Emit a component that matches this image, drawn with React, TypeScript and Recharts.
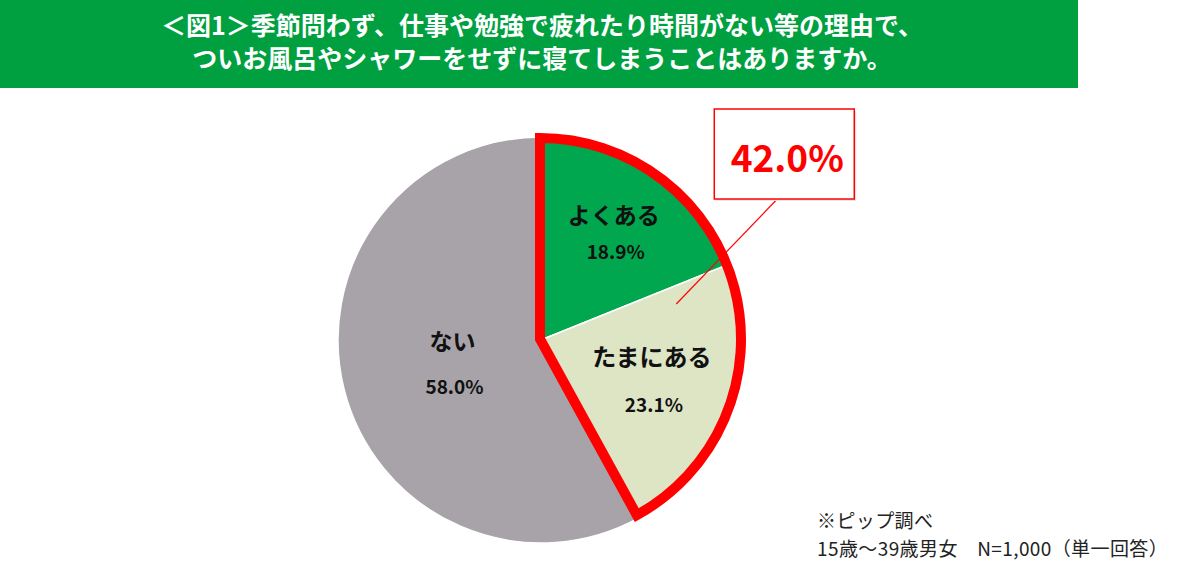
import React from 'react';
import { PieChart, Pie, Cell } from 'recharts';

const categories = ['よくある', 'たまにある', 'ない'];
const values = [18.9, 23.1, 58.0];
const sliceColors = ['#00A74E', '#DDE5C5', '#A7A3A8'];
const titleLines = [
  '＜図1＞季節問わず、仕事や勉強で疲れたり時間がない等の理由で、',
  'ついお風呂やシャワーをせずに寝てしまうことはありますか。',
];
const noteLines = ['※ピップ調べ', '15歳〜39歳男女　N=1,000（単一回答）'];
const highlightNames = ['ある（計）', 'ない'];

const data = categories.map((name, i) => ({ name, value: values[i] }));
const highlightValues = [values[0] + values[1], values[2]];
const highlightData = highlightNames.map((name, i) => ({ name, value: highlightValues[i] }));

const FONT = '"Noto Sans CJK JP", "Noto Sans", sans-serif';
const RADIAN = Math.PI / 180;
const labelRadiusRatio = [0.64, 0.58, 0.45];
const labelGap = [18, 24, 23];
const nameSize = [23, 24, 23];

const renderSliceLabel = (props: any) => {
  const { cx, cy, midAngle, outerRadius, index, name, value } = props;
  const r = outerRadius * labelRadiusRatio[index];
  const x = cx + r * Math.cos(-midAngle * RADIAN);
  const y = cy + r * Math.sin(-midAngle * RADIAN);
  const g = labelGap[index];
  return (
    <g>
      <text x={x} y={y - g} textAnchor="middle" dominantBaseline="central"
        fontFamily={FONT} fontWeight={700} fontSize={nameSize[index]} fill="#111">
        {name}
      </text>
      <text x={x + 2} y={y + g} textAnchor="middle" dominantBaseline="central"
        fontFamily={FONT} fontWeight={700} fontSize={19} fill="#111">
        {`${Number(value).toFixed(1)}%`}
      </text>
    </g>
  );
};

const renderCallout = (props: any) => {
  const { cx, cy, midAngle, outerRadius, index, value } = props;
  if (index !== 0) return null;
  const r = outerRadius * 0.7;
  const ax = cx + r * Math.cos(-midAngle * RADIAN);
  const ay = cy + r * Math.sin(-midAngle * RADIAN);
  const bx = ax + 101;
  const by = ay - 105;
  const w = 140;
  const h = 90;
  return (
    <g>
      <line x1={ax} y1={ay} x2={bx} y2={by} stroke="#FF0000" strokeWidth={1.2} />
      <rect x={bx - 63 + 2} y={by - h + 2} width={w} height={h} fill="#E6E6E6" />
      <rect x={bx - 63} y={by - h} width={w} height={h} fill="#FFFFFF" stroke="#FF0000" strokeWidth={1.5} />
      <text x={bx - 63 + w / 2 + 3} y={by - h / 2 + 2} textAnchor="middle" dominantBaseline="central"
        fontFamily={FONT} fontWeight={700} fontSize={37} fill="#FF0000">
        {`${Number(value).toFixed(1)}%`}
      </text>
    </g>
  );
};

export default function App() {
  return (
    <div style={{ position: 'absolute', left: 0, top: 0, width: 1200, height: 574, background: '#FFFFFF', overflow: 'hidden' }}>
      <div style={{
        position: 'absolute', left: 0, top: 0, width: 1078, height: 88, background: '#00A040',
        color: '#FFFFFF', fontFamily: FONT, fontWeight: 700, fontSize: 25, lineHeight: '33px',
        textAlign: 'center', paddingTop: 8, boxSizing: 'border-box',
      }}>
        {titleLines.map((t, i) => (
          <div key={i} style={{ paddingLeft: 6 }}>{t}</div>
        ))}
      </div>
      <div style={{ position: 'absolute', left: 0, top: 0 }}>
        <PieChart width={1200} height={574} margin={{ top: 0, right: 0, bottom: 0, left: 0 }}>
          <Pie
            data={data}
            dataKey="value"
            nameKey="name"
            cx={541}
            cy={340}
            outerRadius={203}
            startAngle={90}
            endAngle={-270}
            stroke="#FFFFFF"
            strokeWidth={1.5}
            isAnimationActive={false}
            label={renderSliceLabel}
            labelLine={false}
          >
            {data.map((d, i) => (
              <Cell key={d.name} fill={sliceColors[i]} />
            ))}
          </Pie>
          <Pie
            data={highlightData}
            dataKey="value"
            nameKey="name"
            cx={540}
            cy={339}
            outerRadius={201}
            startAngle={90}
            endAngle={-270}
            fill="none"
            isAnimationActive={false}
            label={renderCallout}
            labelLine={false}
          >
            {highlightData.map((d, i) => (
              <Cell key={d.name} fill="none" stroke={i === 0 ? '#FF0000' : 'none'} strokeWidth={i === 0 ? 10 : 0} strokeLinejoin="miter" />
            ))}
          </Pie>
        </PieChart>
      </div>
      <div style={{
        position: 'absolute', left: 817, top: 506, fontFamily: FONT, fontSize: 19,
        color: '#222', whiteSpace: 'nowrap', letterSpacing: 0.4,
      }}>
        {noteLines.map((t, i) => (
          <div key={i} style={{ height: 28, lineHeight: '28px' }}>{t}</div>
        ))}
      </div>
    </div>
  );
}
